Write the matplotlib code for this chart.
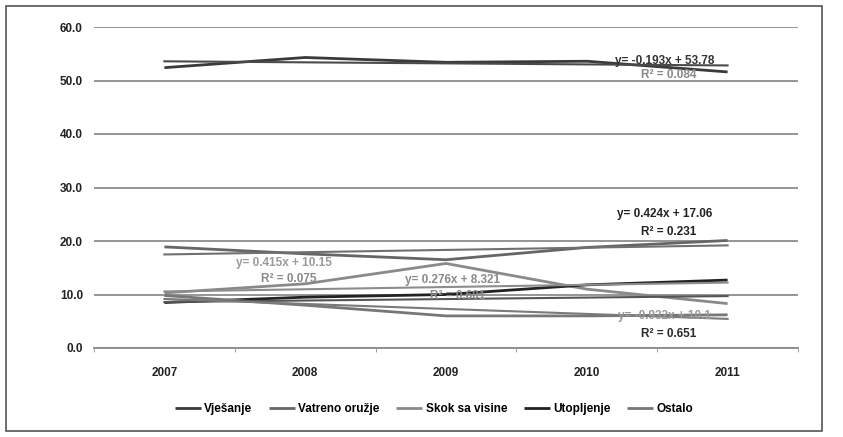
import matplotlib
matplotlib.use("Agg")
import matplotlib.pyplot as plt
from matplotlib.patches import Rectangle
import numpy as np

plt.rcParams['font.family'] = ['Liberation Sans', 'DejaVu Sans']

years = ['2007', '2008', '2009', '2010', '2011']
series_names = ['Vješanje', 'Vatreno oružje', 'Skok sa visine', 'Utopljenje', 'Ostalo']
vjesanje = [52.4, 54.3, 53.4, 53.6, 51.6]
vatreno = [18.9, 17.6, 16.5, 18.8, 20.1]
skok = [10.3, 12.0, 15.8, 11.0, 8.3]
utopljenje = [8.5, 9.5, 10.0, 11.8, 12.7]
ostalo = [9.8, 8.0, 6.0, 6.0, 6.2]
trend_slopes = [-0.193, 0.424, 0.415, 0.276, -0.932]
trend_intercepts = [53.78, 17.06, 10.15, 8.321, 10.1]
r2_values = ['0.084', '0.231', '0.075', '0.601', '0.651']
y_ticks = [0, 10, 20, 30, 40, 50, 60]

data = [vjesanje, vatreno, skok, utopljenje, ostalo]
colors = ['#3a3a3a', '#666666', '#8a8a8a', '#222222', '#777777']
trend_colors = ['#4a4a4a', '#707070', '#8c8c8c', '#555555', '#7a7a7a']

fig = plt.figure(figsize=(8.43, 4.37), dpi=100)
fig.patch.set_facecolor('white')
ax = fig.add_axes([94/843, 1-348/437, (798-94)/843, (348-27)/437])

x = np.arange(len(years))
for vals, name, c in zip(data, series_names, colors):
    ax.plot(x, vals, color=c, lw=2.0, label=name, solid_capstyle='butt')
for m, b, c in zip(trend_slopes, trend_intercepts, trend_colors):
    xx = np.array([1, 5])
    ax.plot(xx - 1, m * xx + b, color=c, lw=1.5)

ax.set_xlim(-0.5, 4.5)
ax.set_ylim(0, 60)
ax.set_yticks(y_ticks)
ax.set_yticklabels([f'{v:.1f}' for v in y_ticks])
ax.set_xticks(x)
ax.set_xticklabels(years)
ax.grid(axis='y', color='#8c8c8c', lw=1.3)
ax.set_axisbelow(True)
for s in ['top', 'right', 'left']:
    ax.spines[s].set_visible(False)
ax.spines['bottom'].set_color('#8c8c8c')
ax.spines['bottom'].set_linewidth(1.3)
ax.tick_params(axis='y', length=0, pad=8, labelsize=8.5, labelcolor='#222222')
ax.tick_params(axis='x', length=0, pad=14, labelsize=8.5, labelcolor='#222222')
for lab in ax.get_xticklabels() + ax.get_yticklabels():
    lab.set_fontweight('bold')
ax.set_xticks(np.arange(-0.5, 5, 1), minor=True)
ax.tick_params(axis='x', which='minor', length=3, color='#8c8c8c')

eq_pos = [(3.55, 53.6, 51.1), (3.55, 25.0, 21.7), (0.85, 15.9, 12.9), (2.05, 12.7, 9.7), (3.55, 6.0, 2.6)]
eq_colors = [('#333333', '#888888'), ('#222222', '#222222'), ('#9a9a9a', '#8a8a8a'),
             ('#8a8a8a', '#8a8a8a'), ('#9a9a9a', '#2a2a2a')]
for (xp, ye, yr), m, b, r2, (ce, cr) in zip(eq_pos, trend_slopes, trend_intercepts, r2_values, eq_colors):
    ax.text(xp, ye, f'y= {m:.3f}x + {abs(b):g}', color=ce, fontsize=8.5, fontweight='bold',
            ha='center', va='center')
    ax.text(xp + 0.03, yr, f'R² = {r2}', color=cr, fontsize=8.5, fontweight='bold',
            ha='center', va='center')

handles, labels = ax.get_legend_handles_labels()
fig.legend(handles, labels, loc='center', bbox_to_anchor=(0.515, 1-409/437), ncol=5,
           frameon=False, handlelength=2.2, handletextpad=0.3, columnspacing=1.4,
           prop={'weight': 'bold', 'size': 8.5})

fig.patches.append(Rectangle((6/843, 6/437), (822-6)/843, (431-6)/437, transform=fig.transFigure,
                             fill=False, edgecolor='#555555', lw=1.2))

fig.savefig('out.png', dpi=100, facecolor='white')
